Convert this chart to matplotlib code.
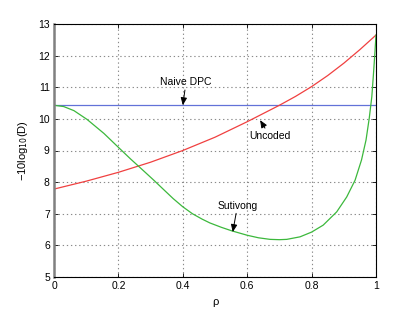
import matplotlib
matplotlib.use("Agg")
import matplotlib.pyplot as plt

plt.rcParams['font.family'] = ['Liberation Sans', 'DejaVu Sans']

# Uncoded (red)
unc_rho = [0.0, 0.1, 0.2, 0.3, 0.4, 0.5, 0.6, 0.7, 0.75, 0.8, 0.85, 0.9, 0.95, 1.0]
unc_val = [7.78, 8.03, 8.31, 8.63, 9.0, 9.42, 9.91, 10.43, 10.71, 11.02, 11.37, 11.76, 12.19, 12.65]

# Sutivong (green)
sut_rho = [0.0, 0.03, 0.062, 0.103, 0.155, 0.2, 0.238, 0.264, 0.31, 0.342, 0.37, 0.4, 0.43,
           0.46, 0.484, 0.52, 0.552, 0.6, 0.635, 0.671, 0.7, 0.723, 0.764, 0.80, 0.836, 0.878,
           0.909, 0.935, 0.955, 0.969, 0.979, 0.987, 0.992, 0.996, 1.0]
sut_val = [10.43, 10.39, 10.26, 9.98, 9.54, 9.1, 8.73, 8.49, 8.06, 7.75, 7.48, 7.22, 7.0,
           6.83, 6.71, 6.57, 6.46, 6.32, 6.24, 6.19, 6.18, 6.19, 6.27, 6.42, 6.64, 7.06,
           7.53, 8.06, 8.7, 9.33, 10.02, 10.70, 11.4, 12.0, 12.65]

# Naive DPC (blue)
dpc_rho = [0.0, 1.0]
dpc_val = [10.43, 10.43]

xticks = [0, 0.2, 0.4, 0.6, 0.8, 1]
xtick_labels = ['0', '0.2', '0.4', '0.6', '0.8', '1']
yticks = [5, 6, 7, 8, 9, 10, 11, 12, 13]

fig = plt.figure(figsize=(4.15, 3.12), dpi=100)
ax = fig.add_axes([54/415, 1-277/312, 322/415, 253/312])

ax.plot(dpc_rho, dpc_val, color='#6272d8', lw=0.9)
ax.plot(unc_rho, unc_val, color='#f04040', lw=0.9)
ax.plot(sut_rho, sut_val, color='#3cb83c', lw=0.9)

ax.set_xlim(0, 1)
ax.set_ylim(5, 13)
ax.set_xticks(xticks)
ax.set_xticklabels(xtick_labels)
ax.set_yticks(yticks)
ax.tick_params(direction='in', length=3, width=0.6, labelsize=7.5, top=True, right=True, pad=3)
ax.grid(True, linestyle=(0, (1.2, 2.5)), color='#8a8a8a', lw=0.8)
for s in ax.spines.values():
    s.set_linewidth(0.8)
    s.set_color('black')
ax.spines['left'].set_color('#808080')
ax.spines['left'].set_linewidth(1.8)

ax.set_xlabel('ρ', fontsize=8, labelpad=4)
ax.set_ylabel('−10log$_{10}$(D)', fontsize=8, labelpad=6)

akw = dict(arrowstyle='-|>,head_length=0.6,head_width=0.25', color='black', lw=0.7, shrinkA=0, shrinkB=0)
ax.annotate('Naive DPC', xy=(0.4, 10.43), xytext=(0.41, 11.0), fontsize=7.5,
            ha='center', va='bottom', arrowprops=akw)
ax.annotate('Uncoded', xy=(0.64, 9.96), xytext=(0.67, 9.62), fontsize=7.5,
            ha='center', va='top', arrowprops=akw)
ax.annotate('Sutivong', xy=(0.555, 6.42), xytext=(0.57, 7.1), fontsize=7.5,
            ha='center', va='bottom', arrowprops=akw)

fig.savefig('out.png', dpi=100)
